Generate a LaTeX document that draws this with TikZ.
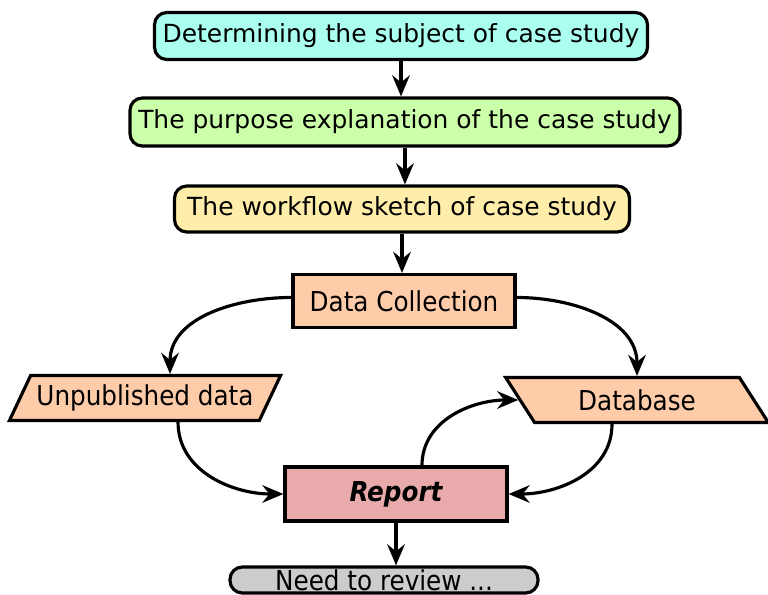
\documentclass[tikz,border=0pt]{standalone}
\usepackage{fontspec}
\setmainfont{DejaVu Sans}
\newfontfamily\condfont{DejaVu Sans Condensed}
\usetikzlibrary{shapes.geometric}
\usetikzlibrary{arrows.meta}

\begin{document}
\begin{tikzpicture}[x=0.02cm,y=-0.02cm,line width=1.8pt,
  >={Stealth[inset=4pt,length=12pt,width=10pt]}]
\definecolor{SubjectCyan}{HTML}{AAFFEE}
\definecolor{PurposeGreen}{HTML}{CCFFAA}
\definecolor{SketchYellow}{HTML}{FFEEAA}
\definecolor{DataOrange}{HTML}{FFCCAA}
\definecolor{ReportRed}{HTML}{E8AAAA}
\definecolor{ReviewGray}{HTML}{CCCCCC}
\def\px{0.02cm}
\tikzset{
  stepbox/.style={draw, rounded corners=7pt, font=\fontsize{14.2}{16}\selectfont},
  databox/.style={draw, fill=DataOrange, font=\condfont\fontsize{15.6}{18}\selectfont},
  iobox/.style={databox, trapezium, trapezium stretches=true}
}

\useasboundingbox (0,0) rectangle (768,595);

%\draw[very thin,color=lightgray,step=50] (0,0) grid (768,595);

\node[stepbox, fill=SubjectCyan, minimum width=493*\px, minimum height=47*\px] (subject) at (401,36) {Determining the subject of case study};
\node[stepbox, fill=PurposeGreen, minimum width=550*\px, minimum height=48*\px] (purpose) at (405,122) {The purpose explanation of the case study};
\node[stepbox, fill=SketchYellow, minimum width=455*\px, minimum height=46*\px] (sketch) at (402,209) {The workflow sketch of case study};

\node[databox, minimum width=222*\px, minimum height=53*\px] (collect) at (404,301) {Data Collection};
\node[iobox, trapezium left angle=61, trapezium right angle=119, minimum width=270*\px, minimum height=45*\px] (unpub) at (145,398) {Unpublished data};
\node[iobox, trapezium left angle=119, trapezium right angle=61, minimum width=265*\px, minimum height=45*\px] (dbase) at (637,400) {Database};

\node[databox, fill=ReportRed, font=\condfont\bfseries\itshape\fontsize{15.6}{18}\selectfont, minimum width=222*\px, minimum height=54*\px] (report) at (396,494) {Report};
\node[draw, fill=ReviewGray, rounded corners=7pt, font=\condfont\fontsize{15.6}{18}\selectfont, minimum width=308*\px, minimum height=26*\px, inner ysep=0pt] (review) at (384,580) {Need to review ...};

\draw[->] (subject.south) -- (subject.south |- purpose.north);
\draw[->] (purpose.south) -- (purpose.south |- sketch.north);
\draw[->] (sketch.south) -- (sketch.south |- collect.north);

\draw[->] ([yshift=2pt]collect.west) to[out=180,in=90] ([xshift=25*\px]unpub.north);
\draw[->] ([yshift=2pt]collect.east) to[out=0,in=90] (dbase.north);
\draw[->] ([xshift=33*\px]unpub.south) to[out=-90,in=180] (report.west);
\draw[->] ([xshift=-25*\px]dbase.south) to[out=-90,in=0] (report.east);
\draw[->] ([xshift=26*\px]report.north) to[out=90,in=180] (dbase.west);

\draw[->] (report.south) -- (report.south |- review.north);

\end{tikzpicture}
\end{document}
